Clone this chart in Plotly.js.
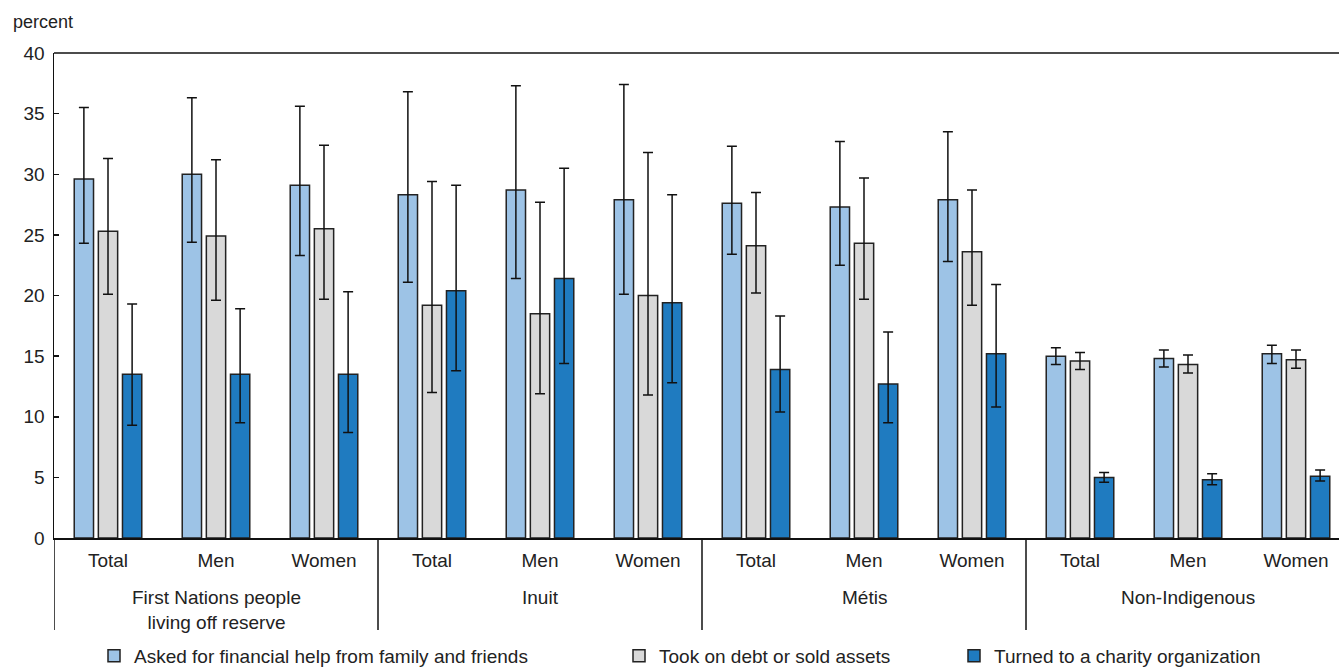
<!DOCTYPE html>
<html>
<head>
<meta charset="utf-8">
<script src="https://cdn.plot.ly/plotly-3.0.1.min.js"></script>
<style>
  html, body { margin: 0; padding: 0; background: #ffffff; }
  #chart { width: 1339px; height: 668px; }
</style>
</head>
<body>
<div id="chart"></div>
<script>
// Population groups and the sub-categories shown under each one
const groups = ["First Nations people<br>living off reserve", "Inuit", "Métis", "Non-Indigenous"];
const subgroups = ["Total", "Men", "Women"];

// Series names
const seriesNames = [
  "Asked for financial help from family and friends",
  "Took on debt or sold assets",
  "Turned to a charity organization"
];

// Percent values (12 bars per series: group x sub-category)
const helpFamily      = [29.6, 30.0, 29.1, 28.3, 28.7, 27.9, 27.6, 27.3, 27.9, 15.0, 14.8, 15.2];
const helpFamilyHigh  = [35.5, 36.3, 35.6, 36.8, 37.3, 37.4, 32.3, 32.7, 33.5, 15.7, 15.5, 15.9];
const helpFamilyLow   = [24.3, 24.4, 23.3, 21.1, 21.4, 20.1, 23.4, 22.5, 22.8, 14.3, 14.1, 14.4];

const debtAssets      = [25.3, 24.9, 25.5, 19.2, 18.5, 20.0, 24.1, 24.3, 23.6, 14.6, 14.3, 14.7];
const debtAssetsHigh  = [31.3, 31.2, 32.4, 29.4, 27.7, 31.8, 28.5, 29.7, 28.7, 15.3, 15.1, 15.5];
const debtAssetsLow   = [20.1, 19.6, 19.7, 12.0, 11.9, 11.8, 20.2, 19.7, 19.2, 13.9, 13.6, 14.0];

const charity         = [13.5, 13.5, 13.5, 20.4, 21.4, 19.4, 13.9, 12.7, 15.2, 5.0, 4.8, 5.1];
const charityHigh     = [19.3, 18.9, 20.3, 29.1, 30.5, 28.3, 18.3, 17.0, 20.9, 5.4, 5.3, 5.6];
const charityLow      = [ 9.3,  9.5,  8.7, 13.8, 14.4, 12.8, 10.4,  9.5, 10.8, 4.6, 4.4, 4.7];

// Tick labels along the category axis
const tickLabels = groups.flatMap(() => subgroups);
const xIdx = tickLabels.map((_, i) => i);

const FONT = '"Liberation Sans", Arial, sans-serif';
const INK = '#222222';

function barTrace(name, vals, hi, lo, color, legendId) {
  return {
    type: 'bar',
    name: name,
    x: xIdx,
    y: vals,
    legend: legendId,
    marker: { color: color, line: { color: INK, width: 1.5 } },
    error_y: {
      type: 'data',
      symmetric: false,
      array: hi.map((h, i) => +(h - vals[i]).toFixed(2)),
      arrayminus: lo.map((l, i) => +(vals[i] - l).toFixed(2)),
      color: '#111111',
      thickness: 1.5,
      width: 5
    },
    hoverinfo: 'y+name'
  };
}

const traces = [
  barTrace(seriesNames[0], helpFamily, helpFamilyHigh, helpFamilyLow, '#9DC3E6', 'legend'),
  barTrace(seriesNames[1], debtAssets, debtAssetsHigh, debtAssetsLow, '#D9D9D9', 'legend2'),
  barTrace(seriesNames[2], charity, charityHigh, charityLow, '#1F7BC0', 'legend3')
];

// Plot area geometry in pixels
const L = 54, T = 53, B = 130, W = 1339, H = 668;
const plotH = H - T - B;
const plotW = W - L;
const pxToPaperY = py => (H - B - py) / plotH;
const pxToPaperX = px => (px - L) / plotW;

// Dividers between population groups, below the axis
const divY = pxToPaperY(630);
const shapes = [];
for (let g = 0; g <= groups.length; g++) {
  const xb = g * subgroups.length - 0.5;
  shapes.push({
    type: 'line', xref: 'x', yref: 'paper',
    x0: xb, x1: xb, y0: 0, y1: divY,
    line: { color: '#111111', width: 1.5 }
  });
}
// Top border of the plot area
shapes.push({
  type: 'line', xref: 'paper', yref: 'paper',
  x0: 0, x1: 1, y0: 1, y1: 1,
  line: { color: '#111111', width: 1.5 }
});

// Group names centred under their three sub-categories
const annotations = groups.map((g, i) => ({
  text: g,
  xref: 'x', yref: 'paper',
  x: i * subgroups.length + (subgroups.length - 1) / 2,
  y: pxToPaperY(585),
  xanchor: 'center', yanchor: 'top',
  showarrow: false,
  font: { family: FONT, size: 19, color: '#222222' }
}));
annotations.push({
  text: 'percent',
  xref: 'paper', yref: 'paper',
  x: pxToPaperX(11), y: pxToPaperY(22),
  xanchor: 'left', yanchor: 'middle',
  showarrow: false,
  font: { family: FONT, size: 18, color: '#222222' }
});

const legendBase = {
  orientation: 'h',
  xref: 'paper', yref: 'paper',
  xanchor: 'left', yanchor: 'middle',
  y: pxToPaperY(656),
  bgcolor: 'rgba(0,0,0,0)',
  font: { family: FONT, size: 19, color: '#222222' }
};

const layout = {
  width: W, height: H,
  margin: { l: L, r: 0, t: T, b: B, pad: 0, autoexpand: false },
  paper_bgcolor: '#ffffff',
  plot_bgcolor: '#ffffff',
  barmode: 'group',
  bargap: 0.33,
  bargroupgap: 0.2,
  font: { family: FONT, color: '#222222' },
  xaxis: {
    type: 'linear',
    range: [-0.5, -0.5 + plotW / 108],
    tickmode: 'array',
    tickvals: xIdx,
    ticktext: tickLabels,
    ticks: '',
    showgrid: false,
    zeroline: false,
    showline: true,
    linecolor: '#111111',
    linewidth: 2,
    ticklabelstandoff: 4,
    tickfont: { family: FONT, size: 19, color: '#222222' },
    automargin: false,
    fixedrange: true
  },
  yaxis: {
    range: [0, 40],
    dtick: 5,
    tick0: 0,
    ticks: 'inside',
    ticklen: 5,
    tickwidth: 1.5,
    tickcolor: '#111111',
    showgrid: false,
    zeroline: false,
    showline: true,
    linecolor: '#111111',
    linewidth: 1.5,
    ticklabelstandoff: 4,
    tickfont: { family: FONT, size: 19, color: '#222222' },
    automargin: false,
    fixedrange: true
  },
  showlegend: true,
  legend:  Object.assign({}, legendBase, { x: pxToPaperX(94) }),
  legend2: Object.assign({}, legendBase, { x: pxToPaperX(619) }),
  legend3: Object.assign({}, legendBase, { x: pxToPaperX(954) }),
  shapes: shapes,
  annotations: annotations
};

Plotly.newPlot('chart', traces, layout, { displayModeBar: false, staticPlot: true });
</script>
</body>
</html>
